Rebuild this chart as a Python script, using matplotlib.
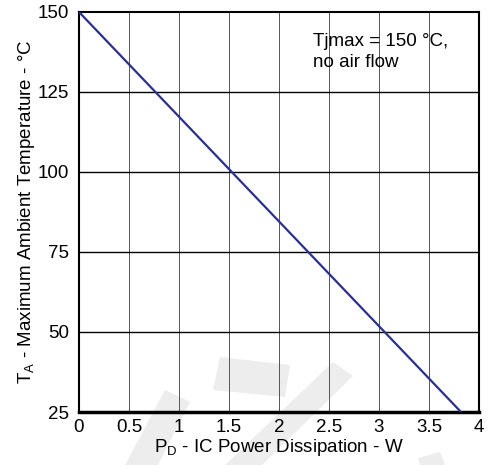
import matplotlib
matplotlib.use('Agg')
import matplotlib.pyplot as plt
from matplotlib.patches import Polygon

plt.rcParams['font.family'] = ['Liberation Sans', 'DejaVu Sans']

# Data
power_w = [0, 3.82]
ambient_c = [150, 25]
x_ticks = [0, 0.5, 1, 1.5, 2, 2.5, 3, 3.5, 4]
y_ticks = [25, 50, 75, 100, 125, 150]

W, H = 489, 465
fig = plt.figure(figsize=(W / 100, H / 100), dpi=100)

ax = fig.add_axes([79 / W, 1 - 412 / H, 400 / W, 400 / H])
ax.patch.set_alpha(0)

# faint watermark behind the chart (pixel shapes, top-down y)
shapes = [
    [(165, 390), (190, 402), (158, 465), (125, 465)],
    [(333, 362), (353, 376), (262, 465), (225, 465)],
    [(220, 357), (290, 365), (285, 397), (213, 390)],
    [(418, 458), (440, 452), (445, 465), (420, 465)],
]
for pts in shapes:
    p = Polygon([(x / W, 1 - y / H) for x, y in pts], closed=True,
                transform=fig.transFigure, facecolor='#ededed',
                edgecolor='none', zorder=0.2, clip_on=False)
    ax.add_patch(p)

ax.plot(power_w, ambient_c, color='#2b2f8f', linewidth=1.6, zorder=3)

ax.set_xlim(0, 4)
ax.set_ylim(25, 150)
ax.set_xticks(x_ticks)
ax.set_xticklabels(['0', '0.5', '1', '1.5', '2', '2.5', '3', '3.5', '4'])
ax.set_yticks(y_ticks)

# grid: vertical thin, horizontal darker
for x in x_ticks[1:-1]:
    ax.axvline(x, color='#555555', linewidth=0.7, zorder=1)
for y in y_ticks[1:-1]:
    ax.axhline(y, color='black', linewidth=1.0, zorder=1)

for s in ax.spines.values():
    s.set_linewidth(1.5)
ax.spines['bottom'].set_linewidth(2.5)

ax.tick_params(length=0, labelsize=13.5)
ax.tick_params(axis='x', pad=5)
ax.tick_params(axis='y', pad=7)

ax.set_xlabel('P$_\\mathregular{D}$ - IC Power Dissipation - W', fontsize=13.5, labelpad=1)
ax.set_ylabel('T$_\\mathregular{A}$ - Maximum Ambient Temperature - °C', fontsize=13.5, labelpad=1)

ax.text(2.34, 143.5, 'Tjmax = 150 °C,\nno air flow', fontsize=13.5, va='top', ha='left',
        linespacing=1.35)

plt.savefig('out.png', dpi=100)
